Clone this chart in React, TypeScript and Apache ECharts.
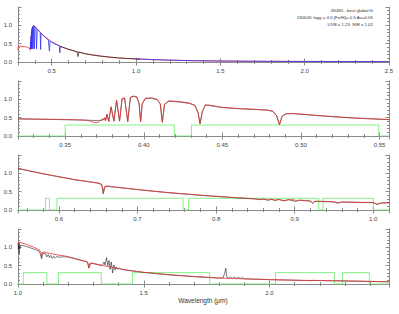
import React, { useEffect, useRef } from "react";
import * as echarts from "echarts";

// ---------- Panel 1 (full range) ----------
const p1Model: number[][] = [
  [0.3, 0.32], [0.302, 0.44], [0.31, 0.43], [0.33, 0.42], [0.35, 0.41], [0.36, 0.4], [0.365, 0.38],
  [0.37, 0.34], [0.372, 0.32], [0.376, 0.4], [0.38, 0.8], [0.39, 0.98], [0.4, 0.97], [0.42, 0.87],
  [0.45, 0.72], [0.5, 0.55], [0.55, 0.43], [0.6, 0.345], [0.65, 0.28], [0.7, 0.225], [0.75, 0.185],
  [0.8, 0.155], [0.85, 0.13], [0.9, 0.11], [0.95, 0.095], [1.0, 0.085], [1.1, 0.065], [1.2, 0.05],
  [1.35, 0.035], [1.5, 0.027], [1.7, 0.02], [2.0, 0.015], [2.25, 0.012], [2.5, 0.01],
];
const p1Uvb: number[][] = [
  [0.372, 0.36], [0.374, 0.36], [0.375, 0.55], [0.3758, 0.36], [0.3772, 0.7], [0.378, 0.36],
  [0.3798, 0.82], [0.3805, 0.36], [0.3825, 0.92], [0.3835, 0.36], [0.386, 0.97], [0.3889, 0.36],
  [0.393, 1.0], [0.395, 1.0], [0.397, 0.36], [0.4, 0.97], [0.406, 0.93], [0.4102, 0.36], [0.414, 0.9],
  [0.425, 0.84], [0.432, 0.8], [0.434, 0.34], [0.437, 0.78], [0.46, 0.68], [0.48, 0.6], [0.4861, 0.3],
  [0.49, 0.57], [0.5, 0.54], [0.52, 0.49], [0.545, 0.44], [0.548, 0.25], [0.551, 0.43], [0.56, 0.41],
];
const p1Vis: number[][] = [
  [0.555, 0.42], [0.6, 0.345], [0.65, 0.28], [0.656, 0.15], [0.66, 0.27], [0.7, 0.225], [0.75, 0.185],
  [0.8, 0.155], [0.85, 0.13], [0.9, 0.11], [0.95, 0.095], [1.0, 0.085], [1.02, 0.08],
];
const p1Nir: number[][] = [
  [1.0, 0.085], [1.1, 0.065], [1.2, 0.05], [1.35, 0.035], [1.5, 0.027], [1.7, 0.02], [2.0, 0.015],
  [2.25, 0.012], [2.5, 0.01],
];

// ---------- Panel 2 (UVB) ----------
const p2Model: number[][] = [
  [0.32, 0.47], [0.33, 0.462], [0.34, 0.456], [0.35, 0.45], [0.36, 0.438], [0.364, 0.428], [0.366, 0.41],
  [0.368, 0.375], [0.3695, 0.362], [0.371, 0.375], [0.372, 0.41], [0.3728, 0.44], [0.3734, 0.42],
  [0.374, 0.47], [0.3746, 0.43], [0.3752, 0.5], [0.3757, 0.42], [0.3766, 0.6], [0.3777, 0.39],
  [0.3792, 0.8], [0.381, 0.4], [0.3827, 0.98], [0.3846, 0.4], [0.3862, 1.02], [0.3878, 1.04],
  [0.3898, 0.39], [0.3915, 1.06], [0.3935, 1.09], [0.3955, 1.07], [0.397, 0.9], [0.398, 0.39],
  [0.399, 0.88], [0.401, 1.03], [0.405, 1.04], [0.4085, 1.0], [0.4105, 0.88], [0.4118, 0.37],
  [0.4132, 0.87], [0.416, 0.96], [0.422, 0.94], [0.429, 0.9], [0.4325, 0.84], [0.4345, 0.65],
  [0.4358, 0.33], [0.4372, 0.66], [0.4392, 0.85], [0.442, 0.84], [0.45, 0.78], [0.46, 0.75],
  [0.47, 0.73], [0.478, 0.71], [0.482, 0.68], [0.4845, 0.56], [0.4863, 0.3], [0.488, 0.54],
  [0.4905, 0.61], [0.495, 0.615], [0.505, 0.58], [0.52, 0.53], [0.535, 0.49], [0.556, 0.45],
];
const p2Obs: number[][] = [
  [0.32, 0.465], [0.34, 0.452], [0.36, 0.436], [0.368, 0.425], [0.372, 0.418], [0.374, 0.455],
  [0.3752, 0.49], [0.3757, 0.42], [0.3766, 0.59], [0.3777, 0.4], [0.3792, 0.79], [0.381, 0.41],
  [0.3827, 0.97], [0.3846, 0.41], [0.3862, 1.01], [0.3878, 1.03], [0.3898, 0.4], [0.3915, 1.05],
  [0.3935, 1.08], [0.3955, 1.06], [0.397, 0.89], [0.398, 0.4], [0.399, 0.87], [0.401, 1.02],
  [0.405, 1.03], [0.4085, 0.99], [0.4105, 0.87], [0.4118, 0.38], [0.4132, 0.86], [0.416, 0.95],
  [0.422, 0.93], [0.429, 0.89], [0.4325, 0.83], [0.4345, 0.64], [0.4358, 0.34], [0.4372, 0.65],
  [0.4392, 0.84], [0.442, 0.83], [0.45, 0.775], [0.46, 0.745], [0.47, 0.725], [0.478, 0.705],
  [0.482, 0.675], [0.4845, 0.555], [0.4863, 0.31], [0.488, 0.535], [0.4905, 0.605], [0.495, 0.61],
  [0.505, 0.575], [0.52, 0.525], [0.535, 0.485], [0.556, 0.445],
];
const p2Mask: number[][] = [
  [0.32, 0], [0.35, 0.3], [0.4195, 0], [0.4303, 0.3], [0.5495, 0], [0.556, 0],
];

// ---------- Panel 3 (VIS) ----------
const p3Model: number[][] = [
  [0.548, 1.14], [0.56, 1.08], [0.58, 0.99], [0.6, 0.91], [0.62, 0.83], [0.64, 0.77], [0.65, 0.735],
  [0.6545, 0.7], [0.6558, 0.58], [0.6565, 0.44], [0.6572, 0.58], [0.659, 0.65], [0.663, 0.655],
  [0.67, 0.63], [0.685, 0.595], [0.7, 0.56], [0.72, 0.515], [0.74, 0.475], [0.76, 0.44], [0.78, 0.405],
  [0.8, 0.375], [0.82, 0.345], [0.84, 0.32], [0.85, 0.305], [0.8545, 0.29], [0.86, 0.3], [0.8665, 0.275],
  [0.87, 0.295], [0.875, 0.27], [0.88, 0.29], [0.8863, 0.255], [0.892, 0.285], [0.9, 0.275],
  [0.9015, 0.245], [0.906, 0.27], [0.915, 0.26], [0.92, 0.245], [0.9229, 0.19], [0.926, 0.24],
  [0.94, 0.235], [0.95, 0.225], [0.9546, 0.195], [0.96, 0.22], [0.98, 0.21], [1.0, 0.205],
  [1.0049, 0.16], [1.01, 0.195], [1.02, 0.2],
];
const p3Obs: number[][] = [
  [0.548, 1.13], [0.58, 0.985], [0.62, 0.825], [0.65, 0.73], [0.6545, 0.695], [0.6565, 0.45],
  [0.659, 0.645], [0.67, 0.625], [0.7, 0.555], [0.74, 0.47], [0.78, 0.4], [0.82, 0.34], [0.85, 0.3],
  [0.8545, 0.28], [0.86, 0.295], [0.8665, 0.265], [0.87, 0.29], [0.875, 0.26], [0.88, 0.285],
  [0.8863, 0.245], [0.892, 0.28], [0.9015, 0.235], [0.906, 0.265], [0.92, 0.24], [0.9229, 0.18],
  [0.926, 0.235], [0.95, 0.22], [0.9546, 0.185], [0.96, 0.215], [1.0, 0.2], [1.0049, 0.15],
  [1.01, 0.19], [1.02, 0.195],
];
const p3Mask: number[][] = [
  [0.548, 0], [0.583, 0.32], [0.588, 0], [0.5975, 0.32], [0.758, 0], [0.765, 0.32], [0.9306, 0],
  [0.936, 0.32], [1.0, 0], [1.02, 0],
];

// ---------- Panel 4 (NIR) ----------
const p4Model: number[][] = [
  [1.0, 1.17], [1.003, 1.15], [1.0049, 1.04], [1.0065, 1.14], [1.03, 1.09], [1.06, 1.01], [1.085, 0.93],
  [1.0915, 0.86], [1.0938, 0.68], [1.096, 0.85], [1.1, 0.87], [1.13, 0.83], [1.16, 0.79], [1.19, 0.76],
  [1.22, 0.71], [1.25, 0.65], [1.275, 0.61], [1.2795, 0.56], [1.2818, 0.43], [1.284, 0.55], [1.29, 0.575],
  [1.31, 0.545], [1.34, 0.5], [1.37, 0.46], [1.4, 0.42], [1.43, 0.385], [1.46, 0.355], [1.5, 0.32],
  [1.55, 0.285], [1.6, 0.255], [1.65, 0.23], [1.7, 0.205], [1.75, 0.185], [1.8, 0.165], [1.85, 0.15],
  [1.9, 0.14], [1.95, 0.13], [2.0, 0.12], [2.05, 0.112], [2.1, 0.105], [2.1655, 0.088], [2.17, 0.1],
  [2.25, 0.09], [2.35, 0.078], [2.475, 0.062],
];
const p4Obs: number[][] = [
  [1.0, 1.12], [1.0015, 0.95], [1.003, 1.1], [1.0045, 0.82], [1.006, 1.08], [1.008, 0.96], [1.01, 1.06],
  [1.03, 1.03], [1.06, 0.96], [1.085, 0.89], [1.0938, 0.7], [1.098, 0.84], [1.11, 0.82], [1.115, 0.74],
  [1.12, 0.8], [1.125, 0.72], [1.13, 0.78], [1.136, 0.7], [1.142, 0.76], [1.148, 0.71], [1.155, 0.75],
  [1.165, 0.73], [1.19, 0.745], [1.22, 0.7], [1.25, 0.645], [1.275, 0.6], [1.2818, 0.44], [1.29, 0.57],
  [1.31, 0.54], [1.335, 0.5], [1.342, 0.6], [1.346, 0.52], [1.352, 0.72], [1.357, 0.5], [1.362, 0.64],
  [1.366, 0.4], [1.371, 0.6], [1.376, 0.3], [1.381, 0.52], [1.386, 0.38], [1.391, 0.47], [1.397, 0.4],
  [1.403, 0.44], [1.41, 0.4], [1.43, 0.38], [1.46, 0.35], [1.5, 0.315], [1.6, 0.25], [1.7, 0.2],
  [1.8, 0.16], [1.815, 0.165], [1.822, 0.3], [1.826, 0.43], [1.83, 0.2], [1.836, 0.15], [1.845, 0.19],
  [1.852, 0.15], [1.86, 0.185], [1.868, 0.15], [1.876, 0.18], [1.884, 0.15], [1.892, 0.175], [1.9, 0.14],
  [2.0, 0.118], [2.1, 0.103], [2.25, 0.088], [2.475, 0.06],
];
const p4Mask: number[][] = [
  [1.0, 0], [1.021, 0.31], [1.115, 0], [1.161, 0.31], [1.331, 0], [1.455, 0.31], [1.762, 0],
  [2.024, 0.31], [2.258, 0], [2.29, 0.31], [2.397, 0], [2.475, 0],
];

// ---------- axes / text ----------
const xRanges: number[][] = [[0.3, 2.5], [0.32, 0.556], [0.548, 1.02], [1.0, 2.475]];
const xSplits: number[] = [4, 4, 4, 3];
const xDigits: number[] = [1, 2, 1, 1];
const xShowMin: boolean[] = [false, false, false, true];
const xShowMax: boolean[] = [true, false, false, false];
const yRange: number[] = [0, 1.5];
const yStep = 0.5;
const infoLines: string[] = [
  "3S480 - best global fit",
  "18000K logg = 4.0 [Fe/H]=-0.5 Av=0.05",
  "UVB x 1.23  NIR x 1.02",
];
const xTitle = "Wavelength (\u03bcm)";

const FONT = "'Liberation Sans', Arial, Helvetica, sans-serif";
const AXIS = "#8a8a8a";
const LABEL = "#444";
const RED = "#e23434";
const BLUE = "#3333ee";
const GREEN = "#78ee78";
const BLACK = "#222";

const GRID_TOPS = [7, 81, 155, 229];

export default function App() {
  const ref = useRef<HTMLDivElement>(null);
  useEffect(() => {
    document.body.style.margin = "0";
    if (!ref.current) return;
    const chart = echarts.init(ref.current, undefined, { renderer: "svg" });

    const grid = GRID_TOPS.map((t) => ({ left: 18, width: 371, top: t, height: 55 }));
    const tickCommon = {
      axisLine: { show: true, lineStyle: { color: AXIS, width: 1 } },
      axisTick: { show: true, inside: true, length: 3.5, lineStyle: { color: AXIS } },
      minorTick: { show: true, splitNumber: 5, length: 2, lineStyle: { color: AXIS } },
      splitLine: { show: false },
      minorSplitLine: { show: false },
    };
    const xAxis: any[] = [];
    const yAxis: any[] = [];
    for (let i = 0; i < 4; i++) {
      const d = xDigits[i];
      xAxis.push({
        type: "value", gridIndex: i, position: "bottom",
        min: xRanges[i][0], max: xRanges[i][1], splitNumber: xSplits[i],
        ...tickCommon,
        axisLabel: {
          show: true, fontSize: 6, color: LABEL, fontFamily: FONT, margin: 6,
          showMinLabel: xShowMin[i], showMaxLabel: xShowMax[i],
          formatter: (v: number) => v.toFixed(d),
        },
      });
      xAxis.push({
        type: "value", gridIndex: i, position: "top",
        min: xRanges[i][0], max: xRanges[i][1], splitNumber: xSplits[i],
        ...tickCommon,
        axisLabel: { show: false },
      });
      yAxis.push({
        type: "value", gridIndex: i, position: "left",
        min: yRange[0], max: yRange[1], interval: yStep,
        ...tickCommon,
        axisLabel: {
          show: true, fontSize: 6, color: LABEL, fontFamily: FONT, margin: 6,
          showMaxLabel: false,
          formatter: (v: number) => v.toFixed(1),
        },
      });
      yAxis.push({
        type: "value", gridIndex: i, position: "right",
        min: yRange[0], max: yRange[1], interval: yStep,
        ...tickCommon,
        axisLabel: { show: false },
      });
    }

    const line = (panel: number, data: number[][], color: string, width = 1, step: any = false) => ({
      type: "line",
      xAxisIndex: panel * 2,
      yAxisIndex: panel * 2,
      data,
      showSymbol: false,
      symbol: "none",
      step,
      lineStyle: { color, width },
      silent: true,
    });

    const series = [
      line(0, p1Model, RED, 0.8),
      line(0, p1Uvb, BLUE, 0.8),
      line(0, p1Vis, BLACK, 0.7),
      line(0, p1Nir, BLUE, 0.8),
      line(1, p2Mask, GREEN, 0.9, "end"),
      line(1, p2Obs, BLACK, 0.6),
      line(1, p2Model, RED, 0.8),
      line(2, p3Mask, GREEN, 0.9, "end"),
      line(2, p3Obs, BLACK, 0.6),
      line(2, p3Model, RED, 0.8),
      line(3, p4Mask, GREEN, 0.9, "end"),
      line(3, p4Obs, BLACK, 0.6),
      line(3, p4Model, RED, 0.8),
    ];

    const infoY = [10.5, 17, 24];
    const graphic: any[] = infoLines.map((t, k) => ({
      type: "text",
      x: 373,
      y: infoY[k],
      silent: true,
      style: {
        text: t, fontSize: 4.4, fontFamily: FONT, fill: "#333",
        align: "right", verticalAlign: "middle",
      },
    }));
    graphic.push({
      type: "text",
      x: 203,
      y: 300,
      silent: true,
      style: {
        text: xTitle, fontSize: 6.5, fontFamily: FONT, fill: "#333",
        align: "center", verticalAlign: "middle",
      },
    });

    chart.setOption({
      animation: false,
      backgroundColor: "#ffffff",
      grid,
      xAxis,
      yAxis,
      series,
      graphic,
    });
    return () => chart.dispose();
  }, []);
  return <div ref={ref} style={{ width: 399, height: 314 }} />;
}
